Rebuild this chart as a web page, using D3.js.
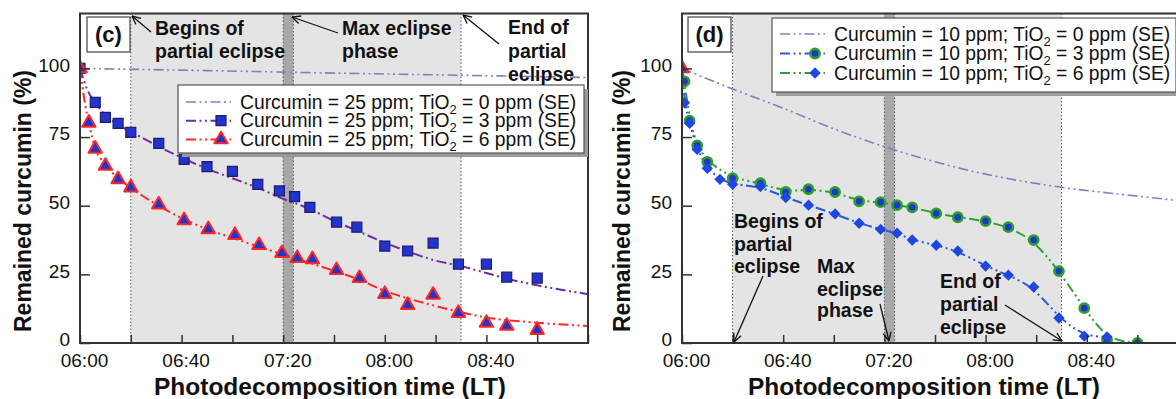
<!DOCTYPE html>
<html>
<head>
<meta charset="utf-8">
<script src="https://cdn.jsdelivr.net/npm/d3@7"></script>
<style>
  body { margin: 0; background: #fff; }
  svg { display: block; }
  text { font-family: "Liberation Sans", Arial, sans-serif; fill: #111; }
</style>
</head>
<body>
<svg id="chart" width="1176" height="399"></svg>
<script>
// ---- axis settings ----
const tickLabels = ["06:00", "06:40", "07:20", "08:00", "08:40"];
const minorTickStep = 20;            // minutes between tick marks
const yTicks = [0, 25, 50, 75, 100];
const yMax = 120;
const timeStart = "06:00", timeEnd = "09:20";

// eclipse phases (local time)
const partialBegin = "06:20";
const maxPhase = ["07:20", "07:24"];
const partialEnd = "08:30";

// ---- panel (c): curcumin 25 ppm, minutes after 06:00 ----
const cCurcumin = 25;
const cTiO2 = [0, 3, 6];
const cSquareMin = [0, 6, 10, 15, 20, 31, 41, 50, 60, 70, 78.5, 84.5, 90.5, 101, 109, 120, 129, 139, 149, 160, 168, 180];
const cSquareVal = [100, 87.6, 82.2, 80, 76.7, 72.7, 66.9, 64.2, 62.5, 57.8, 55.4, 53.3, 49.4, 44, 42.2, 35.3, 33.5, 36.4, 28.7, 28.7, 24, 23.6];
const cTriMin = [0, 3.5, 6, 10, 15, 20, 31, 41, 50.5, 61, 70.5, 79.5, 85.5, 91.5, 101, 110, 120, 129, 139, 149, 160, 168, 180];
const cTriVal = [100, 80.2, 70.7, 64.5, 59.6, 56.6, 50.4, 44.7, 41.4, 39.3, 35.6, 32.7, 30.9, 30.5, 26.5, 23.6, 17.8, 13.8, 17.5, 10.9, 7.3, 6.2, 4.7];
// fitted trends
const cFit0Min = [0, 50, 100, 150, 200];
const cFit0Val = [100, 99.2, 98.3, 97.5, 96.7];
const cFit3Min = [0, 3, 6, 10, 15, 20, 30, 40, 50, 60, 70, 80, 90, 100, 110, 120, 130, 140, 150, 160, 170, 180, 190, 200];
const cFit3Val = [100, 92, 87.5, 83, 79.5, 77, 72, 67.5, 63.5, 60, 56.5, 52.5, 49, 44.5, 40.5, 36.5, 33, 30, 28, 25.5, 23, 21, 19.3, 17.8];
const cFit6Min = [0, 2, 3.5, 6, 10, 15, 20, 30, 40, 50, 60, 70, 80, 90, 100, 110, 120, 130, 140, 150, 160, 180, 200];
const cFit6Val = [100, 87, 80, 71, 65, 60, 56.5, 50.5, 45.5, 41.5, 38.3, 35.2, 32.2, 29.3, 26.3, 23, 19, 16, 13.5, 11.2, 9.3, 7.4, 6.2];

// ---- panel (d): curcumin 10 ppm ----
const dCurcumin = 10;
const dTiO2 = [0, 3, 6];
const dStartMin = [0];
const dStartVal = [100];
const dCircMin = [1, 3, 6, 10, 20, 31, 41, 50, 60.5, 70, 78.5, 85, 91, 100.5, 109, 120, 129, 139, 149, 159, 168, 180];
const dCircVal = [95.3, 81, 72, 66, 60, 58.2, 55, 56, 55, 51.6, 51.3, 50.2, 49.4, 47.2, 45.8, 44.4, 42.2, 37.5, 26.2, 12.7, 1.1, 0];
const dDiaMin = [1, 3, 6, 10, 15, 20, 31, 41, 50, 60.5, 70, 78.5, 85, 91, 100.5, 109, 120, 129, 139, 149, 159, 168];
const dDiaVal = [87.5, 80, 70.5, 63.6, 59.6, 57.8, 57, 53, 50.2, 47, 43.6, 41.4, 40, 37.5, 35.6, 33.5, 28, 24.7, 20.4, 9.1, 2.5, 2.2];
const dFit0Min = [0, 20, 40, 60, 80, 100, 120, 150, 175, 200];
const dFit0Val = [100, 92.5, 85.5, 78, 71.5, 66, 61.5, 56.7, 54, 51.5];

// ---- helpers ----
const svg = d3.select("#chart");
const hm = s => { const [h, m] = s.split(":").map(Number); return new Date(2000, 0, 1, h, m); };
const t0 = hm(timeStart);
const at = m => new Date(t0.getTime() + m * 60000);
const pts = (mins, vals) => mins.map((m, i) => ({ t: at(m), v: vals[i] }));
const fmt = d3.timeFormat("%H:%M");

const C = {
  lavender: "#7c80c4", purple: "#6e2c9c", red: "#ff2626",
  blueLine: "#2b59de", green: "#2ea12e",
  fillBlue: "#1f35cc", sqEdge: "#2a1870", circEdge: "#2b9e2b", diaFill: "#1e46e0",
  lightGrey: "#e4e4e4", darkGrey: "#a8a8a8"
};
const DASH = "10,3.5,2,3.5,2,3.5";

const defs = svg.append("defs");
defs.append("marker").attr("id", "arrow")
  .attr("viewBox", "0 0 10 10").attr("refX", 9.5).attr("refY", 5)
  .attr("markerWidth", 10).attr("markerHeight", 10)
  .attr("markerUnits", "userSpaceOnUse").attr("orient", "auto")
  .append("path").attr("d", "M1,1 L9.5,5 L1,9").attr("fill", "none")
  .attr("stroke", "#111").attr("stroke-width", 1.3);

const markers = {
  square: g => g.append("path").attr("d", d3.symbol(d3.symbolSquare, 100)())
    .attr("fill", C.fillBlue).attr("stroke", C.sqEdge).attr("stroke-width", 1.2),
  triangle: g => g.append("path").attr("d", d3.symbol(d3.symbolTriangle, 78)())
    .attr("fill", C.fillBlue).attr("stroke", C.red).attr("stroke-width", 2).attr("stroke-linejoin", "round"),
  circle: g => g.append("circle").attr("r", 4.6)
    .attr("fill", C.fillBlue).attr("stroke", C.circEdge).attr("stroke-width", 2.6),
  diamond: g => g.append("path").attr("d", d3.symbol(d3.symbolSquare, 64)()).attr("transform", "rotate(45)")
    .attr("fill", C.diaFill)
};

function subTiO2(textSel, curcumin, tio2) {
  textSel.append("tspan").text(`Curcumin = ${curcumin} ppm; TiO`);
  textSel.append("tspan").attr("font-size", 13).attr("dy", 5).text("2");
  textSel.append("tspan").attr("dy", -5).text(` = ${tio2} ppm (SE)`);
}

function drawPanel(p) {
  const top = 13.5, bottom = 343;
  const x = d3.scaleTime().domain([hm(timeStart), hm(timeEnd)]).range([p.left, p.right]);
  const y = d3.scaleLinear().domain([0, yMax]).range([bottom, top]);
  const g = svg.append("g");
  const clipId = "clip-" + p.id;
  defs.append("clipPath").attr("id", clipId).append("rect")
    .attr("x", p.left).attr("y", top).attr("width", p.right - p.left).attr("height", bottom - top);
  const plot = g.append("g").attr("clip-path", `url(#${clipId})`);

  // eclipse shading
  plot.append("rect").attr("x", x(hm(partialBegin))).attr("y", top)
    .attr("width", x(hm(partialEnd)) - x(hm(partialBegin))).attr("height", bottom - top)
    .attr("fill", C.lightGrey);
  plot.append("rect").attr("x", x(hm(maxPhase[0]))).attr("y", top)
    .attr("width", x(hm(maxPhase[1])) - x(hm(maxPhase[0]))).attr("height", bottom - top)
    .attr("fill", C.darkGrey);
  [partialBegin, maxPhase[0], maxPhase[1], partialEnd].forEach(s => {
    plot.append("line").attr("x1", x(hm(s))).attr("x2", x(hm(s))).attr("y1", top).attr("y2", bottom)
      .attr("stroke", "#555").attr("stroke-width", 1).attr("stroke-dasharray", "1.5,2");
  });

  // axes (ticks point inward)
  const tickVals = d3.range(0, 201, minorTickStep).map(at);
  const xa = g.append("g").attr("transform", `translate(0,${bottom})`)
    .call(d3.axisBottom(x).tickValues(tickVals).tickSizeInner(-8).tickSizeOuter(0).tickPadding(11)
      .tickFormat(d => tickLabels.includes(fmt(d)) ? fmt(d) : ""));
  xa.select(".domain").remove();
  xa.selectAll("line").attr("stroke", "#333").attr("stroke-width", 1.5);
  xa.selectAll("text").attr("font-size", 19).attr("dx", 4).attr("font-family", "Liberation Sans, Arial, sans-serif").attr("fill", "#111");

  const ya = g.append("g").attr("transform", `translate(${p.left},0)`)
    .call(d3.axisLeft(y).tickValues(yTicks).tickSizeInner(-10).tickSizeOuter(0).tickPadding(10));
  ya.select(".domain").remove();
  ya.selectAll("line").attr("stroke", "#333").attr("stroke-width", 1.5);
  ya.selectAll("text").attr("font-size", 19).attr("dy", "0.15em").attr("font-family", "Liberation Sans, Arial, sans-serif").attr("fill", "#111");

  // trend lines and data
  p.lines.forEach(l => {
    plot.append("path").datum(l.data)
      .attr("d", d3.line().x(d => x(d.t)).y(d => y(d.v)).curve(l.curve || d3.curveMonotoneX))
      .attr("fill", "none").attr("stroke", l.color).attr("stroke-width", l.width || 2)
      .attr("stroke-dasharray", DASH);
  });
  p.points.forEach(s => {
    s.data.forEach(d => {
      const mg = plot.append("g").attr("transform", `translate(${x(d.t)},${y(d.v)})`);
      markers[s.marker](mg);
    });
  });

  // plot frame
  g.append("rect").attr("x", p.left).attr("y", top).attr("width", p.right - p.left).attr("height", bottom - top)
    .attr("fill", "none").attr("stroke", "#333").attr("stroke-width", 2);

  // panel tag
  g.append("rect").attr("x", p.tag.x).attr("y", 17).attr("width", 43).attr("height", 35)
    .attr("fill", "#fff").attr("stroke", "#444").attr("stroke-width", 1.2);
  g.append("text").attr("x", p.tag.x + 21.5).attr("y", 42).attr("text-anchor", "middle")
    .attr("font-size", 22).attr("font-weight", "bold").text(p.tag.label);

  // legend
  const L = p.legend;
  g.append("rect").attr("x", L.x + 4).attr("y", L.y + 4).attr("width", L.w).attr("height", L.h).attr("fill", "#9a9a9a");
  g.append("rect").attr("x", L.x).attr("y", L.y).attr("width", L.w).attr("height", L.h)
    .attr("fill", "#fff").attr("stroke", "#555").attr("stroke-width", 1.2);
  L.rows.forEach((r, i) => {
    const cy = L.y + L.first + i * L.step;
    g.append("line").attr("x1", L.x + 8).attr("x2", L.x + 53).attr("y1", cy).attr("y2", cy)
      .attr("stroke", r.color).attr("stroke-width", r.width || 2).attr("stroke-dasharray", DASH);
    if (r.marker) markers[r.marker](g.append("g").attr("transform", `translate(${L.x + 43},${cy})`));
    const t = g.append("text").attr("x", L.x + 62).attr("y", cy + 6.6).attr("font-size", 19.3);
    subTiO2(t, L.curcumin, r.tio2);
  });

  // eclipse annotations
  p.notes.forEach(n => {
    const t = g.append("text").attr("font-size", 19.5).attr("font-weight", "bold");
    n.lines.forEach((s, i) => t.append("tspan").attr("x", n.x).attr("y", n.ys[i]).text(s));
    g.append("line").attr("x1", n.from[0]).attr("y1", n.from[1]).attr("x2", n.to[0]).attr("y2", n.to[1])
      .attr("stroke", "#111").attr("stroke-width", 1.3).attr("marker-end", "url(#arrow)");
  });

  // axis titles
  g.append("text").attr("transform", `translate(${p.yTitleX},201) rotate(-90)`)
    .attr("text-anchor", "middle").attr("dy", "0.35em")
    .attr("font-size", 23).attr("font-weight", "bold").text("Remained curcumin (%)");
  g.append("text").attr("x", p.xTitleX).attr("y", 394.5).attr("text-anchor", "middle")
    .attr("font-size", 24.5).attr("font-weight", "bold").text("Photodecomposition time (LT)");
  return { x, y };
}

// ---- panel (c) ----
drawPanel({
  id: "c", left: 80, right: 588, yTitleX: 23, xTitleX: 330,
  tag: { x: 87, label: "(c)" },
  lines: [
    { data: pts(cFit0Min, cFit0Val), color: C.lavender, width: 1.6 },
    { data: pts(cFit3Min, cFit3Val), color: C.purple },
    { data: pts(cFit6Min, cFit6Val), color: C.red }
  ],
  points: [
    { data: pts(cSquareMin, cSquareVal), marker: "square" },
    { data: pts(cTriMin, cTriVal), marker: "triangle" }
  ],
  legend: {
    x: 178, y: 85, w: 406, h: 68, first: 17, step: 18.7, curcumin: cCurcumin,
    rows: [
      { tio2: cTiO2[0], color: C.lavender, width: 1.6 },
      { tio2: cTiO2[1], color: C.purple, marker: "square" },
      { tio2: cTiO2[2], color: C.red, marker: "triangle" }
    ]
  },
  notes: [
    { lines: ["Begins of", "partial eclipse"], x: 155, ys: [35, 58], from: [151, 32], to: [132, 16] },
    { lines: ["Max eclipse", "phase"], x: 342, ys: [35, 58], from: [338, 33], to: [292, 17] },
    { lines: ["End of", "partial", "eclipse"], x: 508, ys: [34, 58, 81], from: [499, 44], to: [463, 15] }
  ]
});

// ---- panel (d) ----
const dStart = pts(dStartMin, dStartVal);
drawPanel({
  id: "d", left: 682, right: 1188, yTitleX: 622, xTitleX: 924,
  tag: { x: 688, label: "(d)" },
  lines: [
    { data: pts(dFit0Min, dFit0Val), color: C.lavender, width: 1.6 },
    { data: dStart.concat(pts(dCircMin, dCircVal)), color: C.green, curve: d3.curveBasis },
    { data: dStart.concat(pts(dDiaMin, dDiaVal)), color: C.blueLine, curve: d3.curveBasis }
  ],
  points: [
    { data: pts(dCircMin, dCircVal), marker: "circle" },
    { data: pts(dDiaMin, dDiaVal), marker: "diamond" },
    { data: dStart, marker: "triangle" }
  ],
  legend: {
    x: 772, y: 18, w: 404, h: 74, first: 16, step: 19.5, curcumin: dCurcumin,
    rows: [
      { tio2: dTiO2[0], color: C.lavender, width: 1.6 },
      { tio2: dTiO2[1], color: C.blueLine, marker: "circle" },
      { tio2: dTiO2[2], color: C.green, marker: "diamond" }
    ]
  },
  notes: [
    { lines: ["Begins of", "partial", "eclipse"], x: 734, ys: [228, 251, 273], from: [763, 276], to: [734, 342] },
    { lines: ["Max", "eclipse", "phase"], x: 817, ys: [273, 296, 317], from: [880, 304], to: [889, 341] },
    { lines: ["End of", "partial", "eclipse"], x: 940, ys: [288, 311, 334], from: [1005, 305], to: [1062, 341] }
  ]
});
</script>
</body>
</html>
